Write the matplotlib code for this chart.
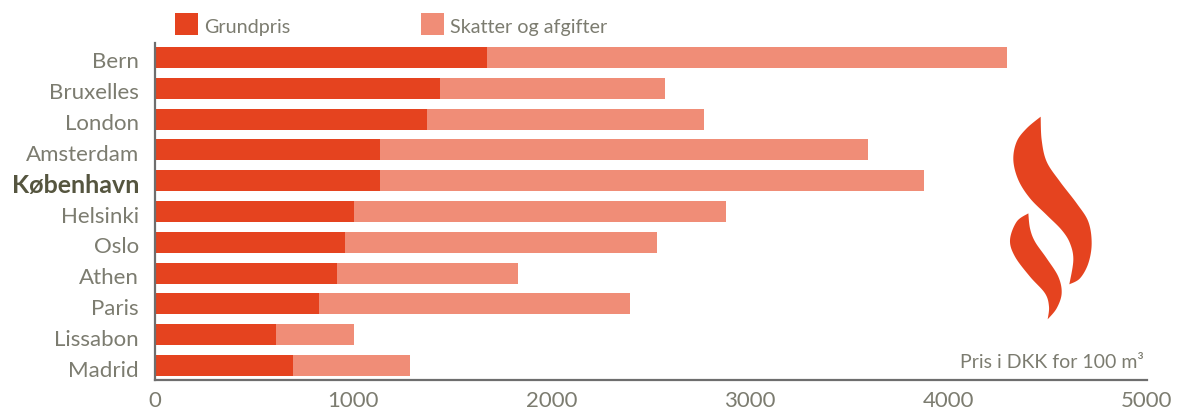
import numpy as np
import matplotlib
matplotlib.use("Agg")
import matplotlib.pyplot as plt
from matplotlib.path import Path
from matplotlib.patches import PathPatch, Rectangle

cities = ["Bern", "Bruxelles", "London", "Amsterdam", "København", "Helsinki",
          "Oslo", "Athen", "Paris", "Lissabon", "Madrid"]
grundpris = [1673, 1436, 1371, 1134, 1134, 1003, 958, 917, 827, 610, 696]
total = [4294, 2570, 2767, 3594, 3876, 2878, 2530, 1830, 2394, 1003, 1285]
afgifter = [t - g for t, g in zip(total, grundpris)]
xticks = [0, 1000, 2000, 3000, 4000, 5000]
legend_labels = ["Grundpris", "Skatter og afgifter"]
note = "Pris i DKK for 100 m³"

RED = "#E5431F"
SALMON = "#F08D77"
TXT = "#7C7C70"
FONT = ["Lato", "DejaVu Sans"]
W, H = 1181, 413

fig = plt.figure(figsize=(W / 100, H / 100), dpi=100)
ax = fig.add_axes([155 / W, 1 - 380 / H, 992 / W, 337 / H])
y = np.arange(len(cities))
ax.barh(y, grundpris, height=0.68, color=RED, linewidth=0)
ax.barh(y, afgifter, left=grundpris, height=0.68, color=SALMON, linewidth=0)
ax.set_xlim(0, 5000)
ax.set_ylim(10.47, -0.47)
ax.set_yticks(y, [""] * len(cities))
ax.set_xticks(xticks, [str(v) for v in xticks])
ax.tick_params(axis="y", length=0)
ax.tick_params(axis="x", length=0, pad=8, labelsize=16, labelcolor=TXT)
for t in ax.get_xticklabels():
    t.set_family(FONT)
for i, city in enumerate(cities):
    is_kbh = city == "København"
    ax.annotate(city, xy=(0, i), xycoords=ax.get_yaxis_transform(),
                xytext=(-11.5, -3.6), textcoords="offset points", ha="right", va="center",
                family=FONT, fontsize=18 if is_kbh else 16,
                fontweight="bold" if is_kbh else "normal",
                color="#55553F" if is_kbh else TXT)
for s in ("top", "right"):
    ax.spines[s].set_visible(False)
for s in ("left", "bottom"):
    ax.spines[s].set_color("#6E6E6E")
    ax.spines[s].set_linewidth(1.6)

# Overlay in pixel coordinates for legend, note and flame
ov = fig.add_axes([0, 0, 1, 1])
ov.set_xlim(0, W)
ov.set_ylim(H, 0)
ov.axis("off")
ov.patch.set_alpha(0)

ov.add_patch(Rectangle((175, 13), 23, 22, color=RED, lw=0))
ov.add_patch(Rectangle((421, 13), 23, 22, color=SALMON, lw=0))
ov.text(204, 27, legend_labels[0], fontsize=14.2, color=TXT, family=FONT, va="center")
ov.text(450, 27, legend_labels[1], fontsize=14.2, color=TXT, family=FONT, va="center")
ov.text(1144, 363, note, fontsize=14, color=TXT, family=FONT, ha="right", va="center")


def smooth(pts, n=10):
    # Catmull-Rom through outline points
    p = np.array(pts, float)
    out = []
    for i in range(len(p) - 1):
        p0 = p[max(i - 1, 0)]
        p1, p2 = p[i], p[i + 1]
        p3 = p[min(i + 2, len(p) - 1)]
        for t in np.linspace(0, 1, n, endpoint=False):
            out.append(0.5 * (2 * p1 + (p2 - p0) * t + (2 * p0 - 5 * p1 + 4 * p2 - p3) * t ** 2
                              + (3 * p1 - p0 - 3 * p2 + p3) * t ** 3))
    out.append(p[-1])
    return np.array(out)


def flame(left, right):
    a = smooth(left)
    b = smooth(right)
    v = np.vstack([a, b[1:]]) / 3 + [980, 100]
    codes = [Path.MOVETO] + [Path.LINETO] * (len(v) - 2) + [Path.CLOSEPOLY]
    ov.add_patch(PathPatch(Path(v, codes), color=RED, lw=0))


flame([(182, 50), (140, 85), (110, 125), (100, 180), (115, 240), (150, 295), (200, 345),
       (245, 390), (270, 430), (280, 480), (268, 553)],
      [(268, 553), (300, 535), (325, 490), (335, 430), (325, 365), (290, 310), (240, 245),
       (200, 185), (185, 120), (182, 50)])
flame([(145, 340), (110, 365), (90, 420), (105, 470), (150, 530), (195, 580), (207, 620), (203, 658)],
      [(203, 658), (230, 625), (245, 580), (235, 530), (200, 475), (165, 425), (150, 385), (145, 340)])

fig.savefig("out.png", dpi=100, facecolor="white")
